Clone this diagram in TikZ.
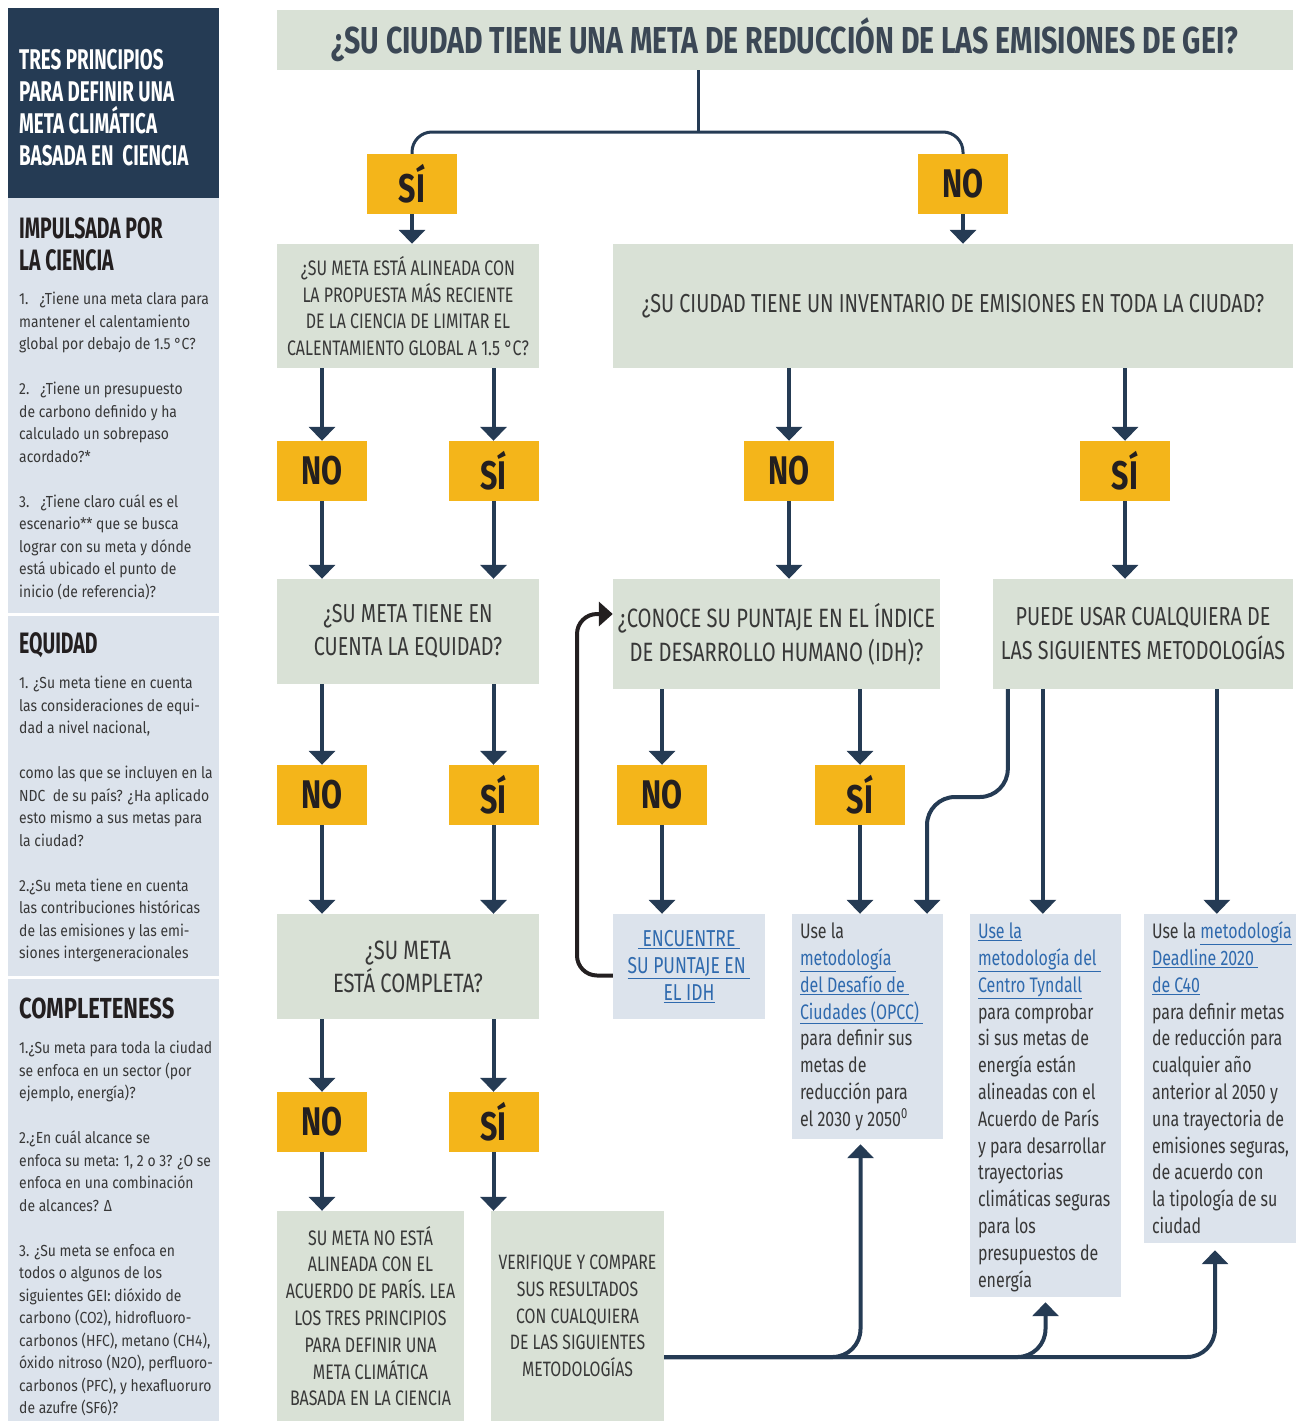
\documentclass[tikz,border=0pt]{standalone}
\usepackage{fontspec}
\setmainfont{Fira Sans}
\newfontfamily\fC[FakeStretch=0.76]{Fira Sans}
\newfontfamily\fK[FakeStretch=0.66]{Fira Sans}
\newfontfamily\fB[FakeStretch=0.87]{Fira Sans}
\usetikzlibrary{arrows.meta}
\definecolor{navy}{HTML}{253B54}
\definecolor{sage}{HTML}{D9E1D6}
\definecolor{lblue}{HTML}{DCE3EC}
\definecolor{gold}{HTML}{F4B51A}
\definecolor{txt}{HTML}{383838}
\definecolor{dark}{HTML}{231F20}
\definecolor{titlec}{HTML}{3B4755}
\definecolor{link}{HTML}{2F6AAE}
\newcommand\lk[1]{\textcolor{link}{\underline{#1}}}
\begin{document}
\begin{tikzpicture}[x=1pt,y=-1pt,
  sagebox/.style={fill=sage, inner sep=0pt, text=txt, align=center},
  bluebox/.style={fill=lblue, inner sep=0pt},
  yn/.style={fill=gold, inner sep=0pt, minimum width=90pt, minimum height=60pt, text=dark, font=\fC\bfseries\fontsize{40}{40}\selectfont},
  arr/.style={draw=navy, line width=4pt, -{Triangle[width=26pt,length=14pt]}},
  conn/.style={draw=navy, line width=3pt},
  looparr/.style={draw=dark, line width=4pt, -{Triangle[width=24pt,length=14pt]}},
  mtext/.style={anchor=north west, inner sep=0pt, align=left, text=txt, font=\fC\fontsize{21}{26.8}\selectfont},
  ptext/.style={anchor=north west, inner sep=0pt, align=left, text=txt, font=\fB\fontsize{16}{22.5}\selectfont},
  phead/.style={anchor=north west, inner sep=0pt, align=left, text=dark, font=\fK\bfseries\fontsize{29.5}{32}\selectfont}
]
\useasboundingbox (0,0) rectangle (1296,1421);
% ---------- left panel
\node[fill=navy, inner sep=0pt, anchor=north west, minimum width=211pt, minimum height=190pt] (hdr) at (8,8) {};
\node[fill=lblue, inner sep=0pt, anchor=north west, minimum width=211pt, minimum height=1223pt] (panel) at (8,198) {};
\draw[white, line width=3pt] (panel.west |- 0,614) -- (panel.east |- 0,614);
\draw[white, line width=3pt] (panel.west |- 0,977) -- (panel.east |- 0,977);
\node[anchor=north west, inner sep=0pt, align=left, text=white, font=\fK\bfseries\fontsize{28.5}{32}\selectfont] (hdrt) at (19,47)
  {\strut TRES PRINCIPIOS\\PARA DEFINIR UNA\\META CLIMÁTICA\\BASADA EN\ \ CIENCIA};
\node[phead] (h1) at (19,216) {\strut IMPULSADA POR\\LA CIENCIA};
\node[ptext] (p1) at (19,289) {\strut 1.\ \ \ ¿Tiene una meta clara para\\
mantener el calentamiento\\
global por debajo de 1.5 °C?\\[22.5pt]
2.\ \ \ ¿Tiene un presupuesto\\
de carbono definido y ha\\
calculado un sobrepaso\\
acordado?*\\[22.5pt]
3.\ \ \ ¿Tiene claro cuál es el\\
escenario** que se busca\\
lograr con su meta y dónde\\
está ubicado el punto de\\
inicio (de referencia)?};
\node[phead] (h2) at (19,631) {\strut EQUIDAD};
\node[ptext] (p2) at (19,673) {\strut 1. ¿Su meta tiene en cuenta\\
las consideraciones de equi-\\
dad a nivel nacional,\\[22.5pt]
como las que se incluyen en la\\
NDC\ \ de su país? ¿Ha aplicado\\
esto mismo a sus metas para\\
la ciudad?\\[22.5pt]
2.¿Su meta tiene en cuenta\\
las contribuciones históricas\\
de las emisiones y las emi-\\
siones intergeneracionales};
\node[phead, font=\fC\bfseries\fontsize{29}{32}\selectfont] (h3) at (19,996) {\strut COMPLETENESS};
\node[ptext] (p3) at (19,1038) {\strut 1.¿Su meta para toda la ciudad\\
se enfoca en un sector (por\\
ejemplo, energía)?\\[22.5pt]
2.¿En cuál alcance se\\
enfoca su meta: 1, 2 o 3? ¿O se\\
enfoca en una combinación\\
de alcances? Δ\\[22.5pt]
3. ¿Su meta se enfoca en\\
todos o algunos de los\\
siguientes GEI: dióxido de\\
carbono (CO2), hidrofluoro-\\
carbonos (HFC), metano (CH4),\\
óxido nitroso (N2O), perfluoro-\\
carbonos (PFC), y hexafluoruro\\
de azufre (SF6)?};
% ---------- flowchart boxes
\node[sagebox, minimum width=1016pt, minimum height=60pt, text=titlec, font=\fC\bfseries\fontsize{37.5}{37.5}\selectfont] (top) at (785,40)
  {¿SU CIUDAD TIENE UNA META DE REDUCCIÓN DE LAS EMISIONES DE GEI?};
\node[sagebox, minimum width=262pt, minimum height=124pt, font=\fC\fontsize{21}{26.7}\selectfont] (q1) at (408,306)
  {¿SU META ESTÁ ALINEADA CON\\LA PROPUESTA MÁS RECIENTE\\DE LA CIENCIA DE LIMITAR EL\\CALENTAMIENTO GLOBAL A 1.5 °C?};
\node[sagebox, minimum width=680pt, minimum height=124pt, font=\fC\fontsize{26}{30}\selectfont] (q2) at (953,306)
  {¿SU CIUDAD TIENE UN INVENTARIO DE EMISIONES EN TODA LA CIUDAD?};
\node[sagebox, minimum width=262pt, minimum height=105pt, font=\fC\fontsize{26}{33}\selectfont] (eq) at (408,631.5)
  {¿SU META TIENE EN\\CUENTA LA EQUIDAD?};
\node[sagebox, minimum width=327pt, minimum height=110pt, font=\fC\fontsize{26.5}{34}\selectfont] (idh) at (776.5,634)
  {¿CONOCE SU PUNTAJE EN EL ÍNDICE\\DE DESARROLLO HUMANO (IDH)?};
\node[sagebox, minimum width=300pt, minimum height=110pt, font=\fC\fontsize{26}{34}\selectfont] (puede) at (1143,634)
  {PUEDE USAR CUALQUIERA DE\\LAS SIGUIENTES METODOLOGÍAS};
\node[sagebox, minimum width=262pt, minimum height=105pt, font=\fC\fontsize{26.5}{33}\selectfont] (comp) at (408,966.5)
  {¿SU META\\ESTÁ COMPLETA?};
\node[bluebox, align=center, minimum width=152pt, minimum height=105pt, font=\fC\fontsize{23}{27}\selectfont] (enc) at (689,966.5)
  {\lk{\ ENCUENTRE\ }\\\lk{SU PUNTAJE EN\ }\\\lk{EL IDH}};
\node[bluebox, minimum width=151pt, minimum height=225pt] (opcc) at (867.5,1026.5) {};
\node[bluebox, minimum width=151pt, minimum height=383pt] (tyn) at (1045.5,1105.5) {};
\node[bluebox, minimum width=152pt, minimum height=329pt] (c40) at (1220,1078.5) {};
\node[sagebox, minimum width=187pt, minimum height=210pt, font=\fC\fontsize{21}{26.8}\selectfont] (nomsg) at (370.5,1316)
  {SU META NO ESTÁ\\ALINEADA CON EL\\ACUERDO DE PARÍS. LEA\\LOS TRES PRINCIPIOS\\PARA DEFINIR UNA\\META CLIMÁTICA\\BASADA EN LA CIENCIA};
\node[sagebox, minimum width=173pt, minimum height=210pt, font=\fC\fontsize{20.8}{26.8}\selectfont] (ver) at (577.5,1316)
  {VERIFIQUE Y COMPARE\\SUS RESULTADOS\\CON CUALQUIERA\\DE LAS SIGUIENTES\\METODOLOGÍAS};
% methodology texts
\node[mtext] (opcct) at ([xshift=8pt,yshift=-6pt]opcc.north west)
  {\strut Use la\\\lk{metodología }\\\lk{del Desafío de }\\\lk{Ciudades (OPCC) }\\para definir sus\\metas de\\reducción para\\el 2030 y 2050\textsuperscript{0}};
\node[mtext] (tynt) at ([xshift=8pt,yshift=-6pt]tyn.north west)
  {\strut\lk{Use la}\\\lk{metodología del }\\\lk{Centro Tyndall}\\para comprobar\\si sus metas de\\energía están\\alineadas con el\\Acuerdo de París\\y para desarrollar\\trayectorias\\climáticas seguras\\para los\\presupuestos de\\energía};
\node[mtext] (c40t) at ([xshift=8pt,yshift=-6pt]c40.north west)
  {\strut Use la \lk{metodología}\\\lk{Deadline 2020 }\\\lk{de C40}\\para definir metas\\de reducción para\\cualquier año\\anterior al 2050 y\\una trayectoria de\\emisiones seguras,\\de acuerdo con\\la tipología de su\\ciudad};
% yes / no boxes
\node[yn] (ys1) at (412,184) {SÍ};
\node[yn] (yn1) at (963,184) {NO};
\node[yn] (yn2) at (322,471) {NO};
\node[yn] (ys2) at (493.5,471) {SÍ};
\node[yn] (yn3) at (789,471) {NO};
\node[yn] (ys3) at (1125,471) {SÍ};
\node[yn] (yn4) at (322,795) {NO};
\node[yn] (ys4) at (493.5,795) {SÍ};
\node[yn] (yn5) at (662,795) {NO};
\node[yn] (ys5) at (860,795) {SÍ};
\node[yn] (yn6) at (322,1122) {NO};
\node[yn] (ys6) at (493.5,1122) {SÍ};
% ---------- connectors
\coordinate (tj) at (698,132);
\draw[conn] (top.south -| tj) -- (tj);
\draw[conn, rounded corners=20pt] (ys1.north) |- (tj) -| (yn1.north);
\draw[arr] (ys1.south) -- (ys1.south |- q1.north);
\draw[arr] (yn1.south) -- (yn1.south |- q2.north);
\draw[arr] (q1.south -| yn2) -- (yn2.north);
\draw[arr] (q1.south -| ys2) -- (ys2.north);
\draw[arr] (yn2.south) -- (yn2.south |- eq.north);
\draw[arr] (ys2.south) -- (ys2.south |- eq.north);
\draw[arr] (q2.south -| yn3) -- (yn3.north);
\draw[arr] (q2.south -| ys3) -- (ys3.north);
\draw[arr] (yn3.south) -- (yn3.south |- idh.north);
\draw[arr] (ys3.south) -- (ys3.south |- puede.north);
\draw[arr] (eq.south -| yn4) -- (yn4.north);
\draw[arr] (eq.south -| ys4) -- (ys4.north);
\draw[arr] (yn4.south) -- (yn4.south |- comp.north);
\draw[arr] (ys4.south) -- (ys4.south |- comp.north);
\draw[arr] (idh.south -| yn5) -- (yn5.north);
\draw[arr] (idh.south -| ys5) -- (ys5.north);
\draw[arr] (yn5.south) -- (yn5.south |- enc.north);
\draw[arr] (ys5.south) -- (ys5.south |- opcc.north);
\draw[arr] (comp.south -| yn6) -- (yn6.north);
\draw[arr] (comp.south -| ys6) -- (ys6.north);
\draw[arr] (yn6.south) -- (yn6.south |- nomsg.north);
\draw[arr] (ys6.south) -- (ys6.south |- ver.north);
% loop back
\coordinate (lx) at (577,800);
\draw[looparr, rounded corners=20pt] ([yshift=-9pt]enc.west) -| (lx) |- ([yshift=20pt]idh.west);
% from PUEDE USAR
\coordinate (p1) at ([xshift=15pt]puede.south west);
\coordinate (p2) at ([xshift=50pt]puede.south west);
\coordinate (p3) at ([xshift=224pt]puede.south west);
\coordinate (jog) at (927,797);
\draw[arr, rounded corners=28pt] (p1) |- (jog) -- (jog |- opcc.north);
\draw[arr] (p2) -- (p2 |- tyn.north);
\draw[arr] (p3) -- (p3 |- c40.north);
% from VERIFIQUE
\coordinate (vs) at ([yshift=-41pt]ver.east);
\coordinate (b1) at ([xshift=-7pt,yshift=-5pt]opcc.south);
\coordinate (b2) at ([yshift=-5pt]tyn.south);
\coordinate (b3) at ([xshift=-5pt,yshift=-7pt]c40.south);
\draw[arr, rounded corners=28pt] (vs) -| (b1);
\draw[arr, rounded corners=28pt] (vs) -| (b2);
\draw[arr, rounded corners=28pt] (vs) -| (b3);
\end{tikzpicture}
\end{document}
